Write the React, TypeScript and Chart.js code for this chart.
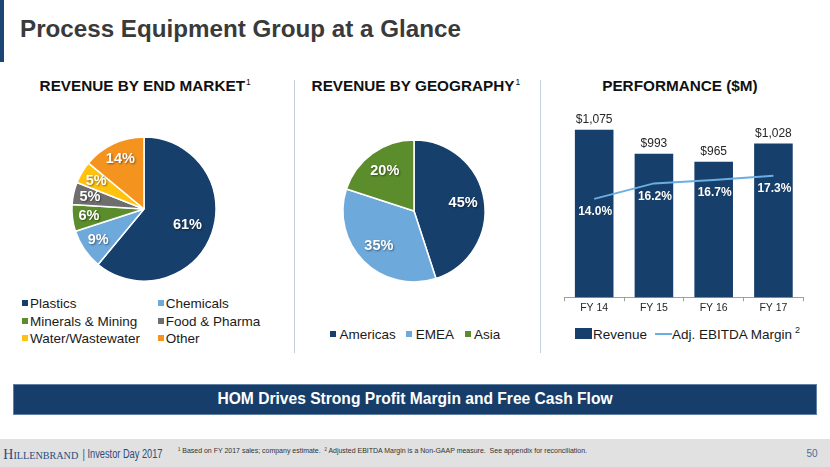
import React, { useEffect, useRef } from 'react';
import { Chart, registerables } from 'chart.js';

Chart.register(...registerables);

const FONT = '"Liberation Sans", Arial, Helvetica, sans-serif';

// ---- data ----
const endMarkets = ['Plastics', 'Chemicals', 'Minerals & Mining', 'Food & Pharma', 'Water/Wastewater', 'Other'];
const endMarketShare = [61, 9, 6, 5, 5, 14];
const regions = ['Americas', 'EMEA', 'Asia'];
const regionShare = [45, 35, 20];
const fiscalYears = ['FY 14', 'FY 15', 'FY 16', 'FY 17'];
const revenue = [1075, 993, 965, 1028];
const ebitdaMargin = [14.0, 16.2, 16.7, 17.3];

// ---- colours ----
const NAVY = '#173f6b';
const LIGHT_BLUE = '#6ea9dc';
const GREEN = '#5c8d2c';
const GRAY = '#6e6e6e';
const YELLOW = '#ffc20e';
const ORANGE = '#f5931f';
const LINE_BLUE = '#6aaee2';
const endMarketColors = [NAVY, LIGHT_BLUE, GREEN, GRAY, YELLOW, ORANGE];
const regionColors = [NAVY, LIGHT_BLUE, GREEN];

const pieLabels = {
  id: 'pieLabels',
  afterDatasetsDraw(chart: any, _args: any, opts: any) {
    const ctx = chart.ctx;
    const ds = chart.data.datasets[0];
    const meta = chart.getDatasetMeta(0);
    ctx.save();
    ctx.font = `bold 14.5px ${FONT}`;
    ctx.fillStyle = '#ffffff';
    ctx.textAlign = 'center';
    ctx.textBaseline = 'middle';
    ctx.shadowColor = 'rgba(0,0,0,0.45)';
    ctx.shadowBlur = 2;
    ctx.shadowOffsetX = 1;
    ctx.shadowOffsetY = 1;
    meta.data.forEach((arc: any, i: number) => {
      const p = arc.getProps(['x', 'y', 'startAngle', 'endAngle', 'outerRadius'], true);
      const mid = (p.startAngle + p.endAngle) / 2;
      const v = ds.data[i];
      const f = v >= (opts.bigThreshold ?? 999) ? opts.bigFactor : opts.factor;
      ctx.fillText(v + '%', p.x + Math.cos(mid) * p.outerRadius * f, p.y + Math.sin(mid) * p.outerRadius * f);
    });
    ctx.restore();
  },
};

const barLabels = {
  id: 'barLabels',
  afterDatasetsDraw(chart: any) {
    const ctx = chart.ctx;
    ctx.save();
    ctx.textAlign = 'center';
    ctx.textBaseline = 'middle';
    chart.data.datasets.forEach((ds: any, di: number) => {
      const meta = chart.getDatasetMeta(di);
      meta.data.forEach((el: any, i: number) => {
        const v = ds.data[i];
        if (ds.type === 'bar') {
          ctx.font = `12px ${FONT}`;
          ctx.fillStyle = '#262626';
          ctx.fillText('$' + v.toLocaleString('en-US'), el.x, el.y - 10);
        } else {
          ctx.font = `bold 12px ${FONT}`;
          ctx.fillStyle = '#ffffff';
          ctx.shadowColor = 'rgba(0,0,0,0.3)';
          ctx.shadowBlur = 1;
          ctx.fillText(v.toFixed(1) + '%', el.x + 1, el.y + 13);
          ctx.shadowColor = 'transparent';
        }
      });
    });
    ctx.restore();
  },
};

function ChartCanvas({ make, left, top, width, height }: any) {
  const ref = useRef<HTMLCanvasElement>(null);
  useEffect(() => {
    const chart = new Chart(ref.current as HTMLCanvasElement, make());
    return () => chart.destroy();
  }, []);
  return (
    <canvas
      ref={ref}
      width={width}
      height={height}
      style={{ position: 'absolute', left, top, width, height }}
    />
  );
}

function pieConfig(labels: string[], data: number[], colors: string[], pad: number, labelOpts: any): any {
  return {
    type: 'pie',
    data: {
      labels,
      datasets: [{ data, backgroundColor: colors, borderColor: '#ffffff', borderWidth: 1.5 }],
    },
    options: {
      animation: false,
      responsive: false,
      maintainAspectRatio: false,
      layout: { padding: pad },
      plugins: { legend: { display: false }, tooltip: { enabled: false }, pieLabels: labelOpts },
    },
    plugins: [pieLabels],
  };
}

function barConfig(): any {
  return {
    type: 'bar',
    data: {
      labels: fiscalYears,
      datasets: [
        {
          type: 'line',
          label: 'Adj. EBITDA Margin',
          data: ebitdaMargin,
          yAxisID: 'y1',
          borderColor: LINE_BLUE,
          borderWidth: 2,
          pointRadius: 0,
          tension: 0,
          order: 0,
        },
        {
          type: 'bar',
          label: 'Revenue',
          data: revenue,
          yAxisID: 'y',
          backgroundColor: NAVY,
          barPercentage: 0.646,
          categoryPercentage: 1,
          order: 1,
        },
      ],
    },
    options: {
      animation: false,
      responsive: false,
      maintainAspectRatio: false,
      layout: { padding: { left: 24.3, right: 26.7, top: 13.4, bottom: 4.1 } },
      plugins: { legend: { display: false }, tooltip: { enabled: false } },
      scales: {
        x: {
          grid: { display: true, drawOnChartArea: false, tickLength: 4, color: '#a0a0a0' },
          border: { color: '#a0a0a0', width: 1 },
          ticks: { font: { family: FONT, size: 10.5 }, color: '#262626', padding: 1 },
        },
        y: { display: false, min: 500, max: 1200 },
        y1: { display: false, min: 0, max: 29, position: 'right' },
      },
    },
    plugins: [barLabels],
  };
}

function T({ x, base, size, weight = 'normal', color = '#1a1a1a', children, center }: any) {
  return (
    <div
      style={{
        position: 'absolute',
        left: x,
        top: base - 0.8465 * size,
        fontSize: size,
        lineHeight: `${size}px`,
        fontWeight: weight,
        color,
        fontFamily: FONT,
        whiteSpace: 'nowrap',
        transform: center ? 'translateX(-50%)' : undefined,
      }}
    >
      {children}
    </div>
  );
}

const Sup = ({ children, size = 8.5 }: any) => (
  <span style={{ fontSize: size, fontWeight: 'normal', position: 'relative', top: -6, marginLeft: 1 }}>{children}</span>
);

export default function App() {
  const legendRowBase = [308.3, 326.2, 343.6];
  const legendColX = [22, 157.7];
  const H = 15.3;
  return (
    <div
      style={{
        position: 'absolute',
        left: 0,
        top: 0,
        width: 830,
        height: 467,
        background: '#ffffff',
        overflow: 'hidden',
        fontFamily: FONT,
      }}
    >
      {/* title */}
      <div style={{ position: 'absolute', left: 0, top: 0, width: 4, height: 62, background: '#1a4574' }} />
      <T x={20} base={37.3} size={24.2} weight="bold" color="#3a3a3a">
        Process Equipment Group at a Glance
      </T>

      {/* section headings */}
      <T x={39.6} base={91.3} size={H} weight="bold" color="#111">
        REVENUE BY END MARKET<Sup>1</Sup>
      </T>
      <T x={311.6} base={91.3} size={H} weight="bold" color="#111">
        REVENUE BY GEOGRAPHY<Sup>1</Sup>
      </T>
      <T x={602.2} base={91.3} size={H} weight="bold" color="#111">
        PERFORMANCE ($M)
      </T>

      {/* dividers */}
      <div style={{ position: 'absolute', left: 293.6, top: 80, width: 1.5, height: 273, background: '#c3d1df' }} />
      <div style={{ position: 'absolute', left: 539.8, top: 80, width: 1.5, height: 273, background: '#c3d1df' }} />

      {/* pies */}
      <ChartCanvas
        left={64}
        top={129}
        width={160}
        height={160}
        make={() =>
          pieConfig(endMarkets, endMarketShare, endMarketColors, 7.2, { factor: 0.77, bigFactor: 0.64, bigThreshold: 50 })
        }
      />
      <ChartCanvas
        left={334}
        top={131}
        width={160}
        height={160}
        make={() => pieConfig(regions, regionShare, regionColors, 8.2, { factor: 0.7 })}
      />

      {/* end market legend */}
      {endMarkets.map((name, i) => {
        const col = i % 2;
        const row = Math.floor(i / 2);
        const base = legendRowBase[row];
        return (
          <React.Fragment key={name}>
            <div
              style={{
                position: 'absolute',
                left: legendColX[col],
                top: base - 8.5,
                width: 6,
                height: 6,
                background: endMarketColors[i],
              }}
            />
            <T x={legendColX[col] + 8} base={base} size={13.5}>
              {name}
            </T>
          </React.Fragment>
        );
      })}

      {/* region legend */}
      <div
        style={{
          position: 'absolute',
          left: 330,
          top: 339.3 - 0.8465 * 13.5,
          display: 'flex',
          alignItems: 'center',
          fontSize: 13.5,
          lineHeight: '13.5px',
          fontFamily: FONT,
          color: '#1a1a1a',
          whiteSpace: 'nowrap',
        }}
      >
        {regions.map((r, i) => (
          <div key={r} style={{ display: 'flex', alignItems: 'center', marginRight: 10.5 }}>
            <div style={{ width: 6, height: 6, background: regionColors[i], marginRight: 3.5, marginTop: -2 }} />
            <span>{r}</span>
          </div>
        ))}
      </div>

      {/* performance chart */}
      <ChartCanvas left={540} top={80} width={290} height={240} make={barConfig} />

      {/* performance legend */}
      <div style={{ position: 'absolute', left: 574.7, top: 328.3, width: 17.6, height: 10.7, background: NAVY }} />
      <T x={593} base={339} size={13.5}>
        Revenue
      </T>
      <div style={{ position: 'absolute', left: 655, top: 333, width: 16.7, height: 2, background: LINE_BLUE }} />
      <T x={672} base={339} size={13.5}>
        Adj. EBITDA Margin
        <span style={{ fontSize: 9, position: 'relative', top: -6, marginLeft: 3 }}>2</span>
      </T>

      {/* banner */}
      <div
        style={{
          position: 'absolute',
          left: 13.3,
          top: 384,
          width: 803.4,
          height: 31,
          background: '#173e6a',
          boxShadow: 'inset 0 0 0 1px #5f7fa3',
        }}
      />
      <T x={415} base={404.7} size={15.6} weight="bold" color="#ffffff" center>
        HOM Drives Strong Profit Margin and Free Cash Flow
      </T>

      {/* footer */}
      <div style={{ position: 'absolute', left: 0, top: 438.5, width: 830, height: 28.5, background: '#e1e1e1' }} />
      <svg
        width={830}
        height={29}
        style={{ position: 'absolute', left: 0, top: 438 }}
      >
        <text x={3.3} y={21} fill="#2b4b7b" fontFamily='"Liberation Serif", "Times New Roman", serif' textLength={75} lengthAdjust="spacingAndGlyphs">
          <tspan fontSize={15.5}>H</tspan>
          <tspan fontSize={11.3}>ILLENBRAND</tspan>
        </text>
        <text x={82.5} y={20.3} fill="#2b4b7b" fontFamily={FONT} fontSize={12.5} textLength={80} lengthAdjust="spacingAndGlyphs">
          | Investor Day 2017
        </text>
        <text
          x={178}
          y={15.4}
          fill="#333333"
          fontFamily={FONT}
          fontSize={7.5}
          textLength={409}
          lengthAdjust="spacingAndGlyphs"
          style={{ whiteSpace: 'pre' }}
        >
          {'¹ Based on FY 2017 sales; company estimate.  ² Adjusted EBITDA Margin is a Non-GAAP measure.  See appendix for reconciliation.'}
        </text>
        <text x={806.5} y={19.3} fill="#4b6d99" fontFamily={FONT} fontSize={10}>
          50
        </text>
      </svg>
    </div>
  );
}
